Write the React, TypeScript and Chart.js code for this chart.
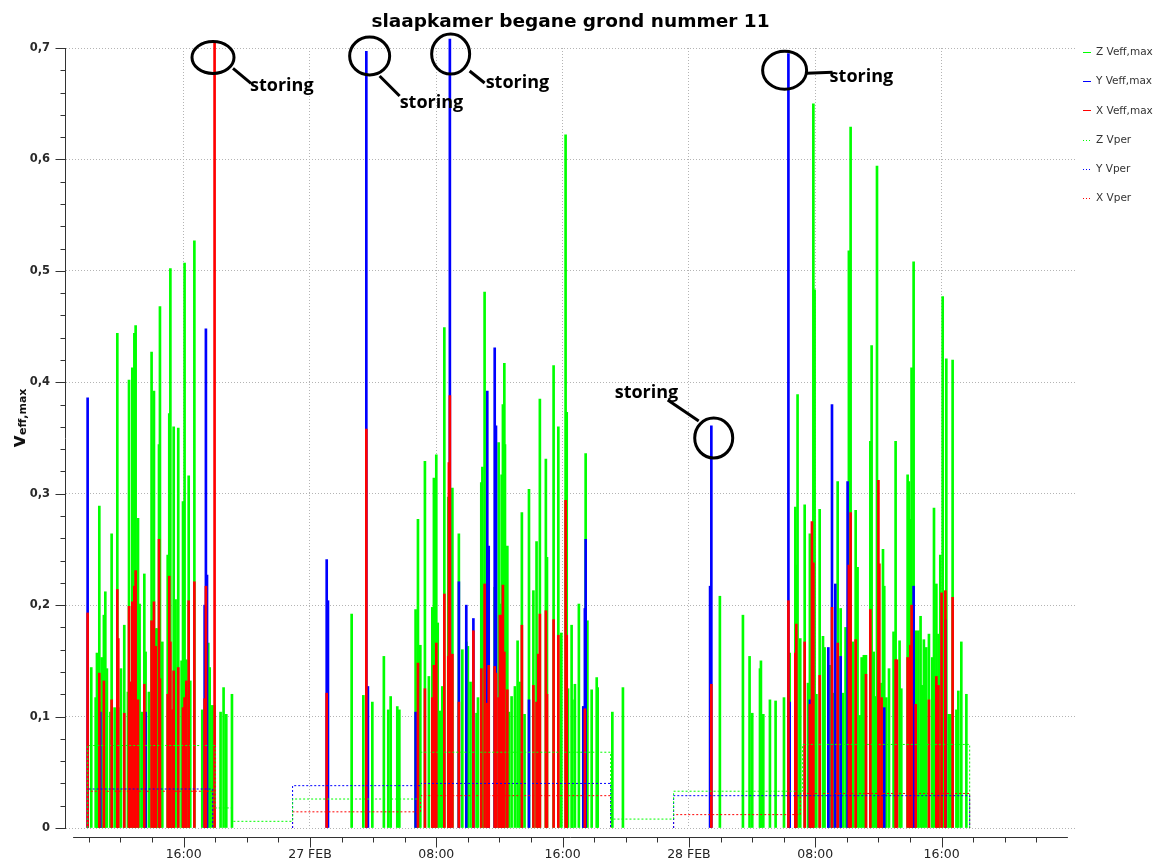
import React, { useEffect, useRef } from 'react';
import { Chart, registerables } from 'chart.js';

Chart.register(...registerables);

// ---------- DATA ----------
// time in hours counted from 26 FEB 00:00
const xRangeHours = [8.55, 72.45];
const xAxisSpanHours = [9, 72];
const majorTickHours = [16, 24, 32, 40, 48, 56, 64];
const majorTickLabels = ['16:00', '27 FEB', '08:00', '16:00', '28 FEB', '08:00', '16:00'];
const minorTickHours = [10, 12, 14, 18, 20, 22, 26, 28, 30, 34, 36, 38, 42, 44, 46, 50, 52, 54, 58, 60, 62, 66, 68, 70];
const yMajorTicks = [0, 0.1, 0.2, 0.3, 0.4, 0.5, 0.6, 0.7];
const yMinorTicks = [0.02, 0.04, 0.06, 0.08, 0.12, 0.14, 0.16, 0.18, 0.22, 0.24, 0.26, 0.28, 0.32, 0.34, 0.36, 0.38, 0.42, 0.44, 0.46, 0.48, 0.52, 0.54, 0.56, 0.58, 0.62, 0.64, 0.66, 0.68];

const chartTitle = 'slaapkamer begane grond nummer 11';
const seriesLabels = ['Z Veff,max', 'Y Veff,max', 'X Veff,max', 'Z Vper', 'Y Vper', 'X Vper'];

// Z Veff,max peaks [hour, value]
const zPeaks: [number, number][] = [
  [10.15, 0.144], [10.43, 0.117], [10.51, 0.157], [10.57, 0.106], [10.66, 0.289], [10.72, 0.113], [10.81, 0.153], [10.95, 0.191],
  [11.04, 0.212], [11.14, 0.143], [11.36, 0.104], [11.44, 0.264], [11.63, 0.108], [11.80, 0.444], [11.86, 0.108], [12.03, 0.143],
  [12.24, 0.182], [12.47, 0.122], [12.54, 0.402], [12.60, 0.131], [12.75, 0.413], [12.88, 0.444], [12.96, 0.451], [13.11, 0.278],
  [13.21, 0.201], [13.38, 0.104], [13.51, 0.228], [13.59, 0.158], [13.80, 0.122], [13.97, 0.427], [14.12, 0.392], [14.23, 0.179],
  [14.33, 0.179], [14.44, 0.344], [14.50, 0.468], [14.65, 0.167], [14.99, 0.245], [15.09, 0.372], [15.16, 0.502], [15.30, 0.106],
  [15.37, 0.360], [15.49, 0.205], [15.66, 0.359], [15.87, 0.150], [15.96, 0.293], [16.06, 0.507], [16.17, 0.151], [16.32, 0.316],
  [16.42, 0.132], [16.68, 0.527], [17.18, 0.106], [17.56, 0.166], [17.65, 0.144], [17.82, 0.110], [17.96, 0.110], [18.34, 0.104],
  [18.53, 0.126], [18.70, 0.102], [19.06, 0.120],
  [26.64, 0.192], [27.38, 0.119], [27.95, 0.113], [28.68, 0.154], [28.96, 0.106], [29.11, 0.118], [29.53, 0.109], [29.66, 0.106],
  [30.69, 0.196], [30.84, 0.277], [30.99, 0.164], [31.28, 0.329], [31.53, 0.136], [31.75, 0.198], [31.85, 0.314], [32.00, 0.335],
  [32.09, 0.184], [32.23, 0.105], [32.38, 0.127], [32.51, 0.449], [32.76, 0.297], [33.02, 0.305], [33.43, 0.264], [33.65, 0.160],
  [33.90, 0.167], [34.00, 0.163], [34.17, 0.131], [34.55, 0.103], [34.64, 0.117], [34.85, 0.310], [34.92, 0.324], [35.06, 0.481],
  [35.70, 0.216], [35.95, 0.346], [36.03, 0.201], [36.14, 0.317], [36.22, 0.380], [36.31, 0.417], [36.35, 0.344], [36.50, 0.253],
  [36.60, 0.104], [36.77, 0.118], [36.98, 0.127], [37.15, 0.168], [37.30, 0.131], [37.42, 0.283], [37.59, 0.102], [37.87, 0.304],
  [38.15, 0.213], [38.35, 0.257], [38.46, 0.156], [38.56, 0.385], [38.94, 0.331], [39.01, 0.243], [39.43, 0.415], [39.73, 0.360],
  [39.92, 0.175], [40.19, 0.622], [40.26, 0.373], [40.34, 0.125], [40.57, 0.182], [40.62, 0.115], [40.78, 0.129], [41.03, 0.201],
  [41.31, 0.109], [41.46, 0.336], [41.57, 0.186], [41.84, 0.124],
  [42.16, 0.135], [42.22, 0.126], [43.15, 0.104], [43.82, 0.126], [49.96, 0.208], [51.42, 0.191], [51.84, 0.154], [52.01, 0.103],
  [52.50, 0.143], [52.56, 0.150], [52.71, 0.102], [53.13, 0.115], [53.49, 0.114], [54.02, 0.117], [54.38, 0.157], [54.74, 0.288],
  [54.80, 0.236], [54.88, 0.389], [55.05, 0.170], [55.33, 0.290], [55.54, 0.130], [55.66, 0.264], [55.79, 0.134], [55.88, 0.650],
  [55.96, 0.483], [56.07, 0.120], [56.28, 0.286], [56.49, 0.172], [56.59, 0.162], [56.83, 0.135], [56.91, 0.146], [57.16, 0.121],
  [57.42, 0.311], [57.61, 0.197], [57.75, 0.121], [57.92, 0.180], [58.05, 0.135], [58.13, 0.518], [58.24, 0.629], [58.39, 0.167],
  [58.56, 0.285], [58.68, 0.234], [58.81, 0.101], [58.94, 0.153], [59.08, 0.155], [59.21, 0.155], [59.49, 0.347], [59.57, 0.433],
  [59.70, 0.158], [59.82, 0.118], [59.91, 0.594], [60.00, 0.169], [60.20, 0.130], [60.29, 0.250], [60.37, 0.217], [60.50, 0.117],
  [60.67, 0.143], [60.96, 0.176], [61.09, 0.347], [61.34, 0.168], [61.45, 0.125], [61.85, 0.317], [61.93, 0.311], [62.02, 0.277],
  [62.10, 0.413], [62.23, 0.508], [62.36, 0.177], [62.53, 0.177], [62.67, 0.190], [62.78, 0.128], [62.88, 0.169], [63.03, 0.162],
  [63.20, 0.174], [63.41, 0.153], [63.52, 0.287], [63.67, 0.219], [63.80, 0.174], [63.92, 0.245], [64.07, 0.477], [64.30, 0.421],
  [64.45, 0.102], [64.58, 0.102], [64.70, 0.420], [64.94, 0.106], [65.06, 0.123], [65.25, 0.167], [65.57, 0.120],
];

// Y Veff,max peaks [hour, value]
const yPeaks: [number, number][] = [
  [9.92, 0.386], [10.72, 0.104], [13.59, 0.104], [17.33, 0.200], [17.41, 0.448], [17.48, 0.227], [25.06, 0.241], [25.14, 0.204],
  [27.57, 0.697], [27.67, 0.127], [30.69, 0.104], [32.86, 0.708], [33.43, 0.221], [33.90, 0.200], [34.35, 0.188], [35.23, 0.392],
  [35.32, 0.253], [35.70, 0.431], [35.78, 0.361], [37.87, 0.115], [41.31, 0.109], [41.41, 0.197], [41.46, 0.259], [49.34, 0.217],
  [49.42, 0.361], [54.30, 0.695], [54.38, 0.113], [54.74, 0.133], [55.66, 0.115], [56.83, 0.162], [57.06, 0.380], [57.27, 0.219],
  [57.61, 0.154], [58.05, 0.311], [60.37, 0.108], [62.23, 0.217], [64.24, 0.187],
];

// X Veff,max peaks [hour, value]
const xPeaks: [number, number][] = [
  [9.92, 0.193], [10.66, 0.139], [10.95, 0.132], [11.44, 0.115], [11.80, 0.214], [11.86, 0.170], [12.24, 0.103], [12.54, 0.199],
  [12.60, 0.131], [12.75, 0.203], [12.88, 0.217], [12.96, 0.231], [13.11, 0.115], [13.51, 0.129], [13.97, 0.186], [14.12, 0.203],
  [14.23, 0.163], [14.44, 0.259], [14.50, 0.134], [14.99, 0.120], [15.09, 0.226], [15.16, 0.167], [15.30, 0.106], [15.37, 0.141],
  [15.66, 0.144], [15.96, 0.108], [16.06, 0.117], [16.17, 0.132], [16.32, 0.204], [16.68, 0.221], [17.33, 0.116], [17.41, 0.217],
  [17.96, 0.706], [25.06, 0.121], [27.57, 0.358], [30.84, 0.148], [31.28, 0.125], [31.75, 0.117], [31.85, 0.146], [32.00, 0.166],
  [32.51, 0.210], [32.76, 0.154], [32.80, 0.328], [32.86, 0.388], [33.02, 0.156], [33.43, 0.113], [34.35, 0.177], [34.85, 0.143],
  [35.06, 0.219], [35.23, 0.112], [35.32, 0.146], [35.70, 0.145], [35.78, 0.139], [35.95, 0.117], [36.03, 0.191], [36.14, 0.191],
  [36.22, 0.218], [36.31, 0.158], [36.50, 0.124], [37.42, 0.182], [38.15, 0.128], [38.35, 0.113], [38.46, 0.156], [38.56, 0.192],
  [38.94, 0.195], [39.01, 0.120], [39.43, 0.187], [39.73, 0.173], [40.19, 0.294], [40.26, 0.173], [41.41, 0.107], [49.42, 0.129],
  [54.30, 0.204], [54.74, 0.157], [54.80, 0.183], [55.33, 0.167], [55.66, 0.111], [55.79, 0.275], [55.88, 0.238], [56.28, 0.137],
  [57.06, 0.198], [57.42, 0.166], [58.13, 0.236], [58.24, 0.283], [58.56, 0.169], [59.21, 0.138], [59.49, 0.196], [60.00, 0.312],
  [60.06, 0.237], [60.20, 0.117], [61.09, 0.151], [61.17, 0.151], [61.85, 0.153], [62.02, 0.164], [62.10, 0.200], [62.36, 0.111],
  [63.20, 0.115], [63.67, 0.136], [63.80, 0.128], [64.00, 0.211], [64.24, 0.213], [64.70, 0.207],
];

// Vper step levels [start hour, level] (null = no measurement)
const zVper: ([number, number] | null)[] = [
  [9.92, 0], [9.92, 0.074], [18.0, 0.018], [19.06, 0.006], [22.9, 0.026], [31.0, 0.068], [43.04, 0.008], [47.03, 0.033],
  [55.2, 0.075], [65.78, 0],
];
const yVper: ([number, number] | null)[] = [
  [9.92, 0], [9.92, 0.035], [17.84, 0], null, [22.9, 0], [22.9, 0.038], [31.0, 0.040], [43.04, 0], null,
  [47.03, 0], [47.03, 0.029], [65.78, 0],
];
const xVper: ([number, number] | null)[] = [
  [9.92, 0], [9.92, 0.033], [17.84, 0], null, [22.9, 0], [22.9, 0.0145], [31.0, 0.029], [43.04, 0], null,
  [47.03, 0], [47.03, 0.012], [55.05, 0.031], [65.78, 0],
];

// "storing" (disturbance) annotations: anchor [hour, value]
const storingAnchors: [number, number][] = [
  [17.86, 0.6915], [27.78, 0.6928], [32.91, 0.6946], [49.57, 0.350], [54.06, 0.680],
];
const storingText = 'storing';

// ---------- STYLE ----------
const GREEN = '#00ff00';
const BLUE = '#0000ff';
const RED = '#ff0000';
const AXIS_COLOR = '#333333';
const TEXT_COLOR = '#2a2a2a';
const GRID_COLOR = '#b4b4b4';

const noteLayout = [
  { rx: 21, ry: 16, line: [20, 11, 38, 26], text: [37, 34] },
  { rx: 20, ry: 19, line: [10, 20, 30, 40], text: [30, 52] },
  { rx: 19, ry: 20, line: [19, 17, 34, 29], text: [35, 34] },
  { rx: 19, ry: 20, line: [-15, -17, -46, -38], text: [-99, -40] },
  { rx: 22, ry: 19, line: [22, 3, 48, 2], text: [45, 12] },
];

const legendStyle = [
  { color: GREEN, dotted: false },
  { color: BLUE, dotted: false },
  { color: RED, dotted: false },
  { color: GREEN, dotted: true },
  { color: BLUE, dotted: true },
  { color: RED, dotted: true },
];

const toBars = (arr: [number, number][]) => arr.map(([x, y]) => ({ x, y }));
const toSteps = (arr: ([number, number] | null)[]) =>
  arr.map((p, i) => (p ? { x: p[0], y: p[1] } : { x: (arr[i - 1] as [number, number])[0] + 0.01, y: null }));

const decorPlugin = {
  id: 'decor',
  afterDraw(chart: any) {
    const { ctx, chartArea, scales } = chart;
    const xs = scales.x;
    const ys = scales.y;
    ctx.save();
    ctx.strokeStyle = AXIS_COLOR;
    ctx.lineWidth = 1;
    ctx.setLineDash([]);

    // y axis
    const ax = Math.round(chartArea.left) - 0.5;
    ctx.beginPath();
    ctx.moveTo(ax, Math.round(ys.getPixelForValue(0.7)));
    ctx.lineTo(ax, Math.round(ys.getPixelForValue(0)) + 1);
    ctx.stroke();
    ctx.beginPath();
    for (const v of yMajorTicks) {
      const py = Math.round(ys.getPixelForValue(v)) + 0.5;
      ctx.moveTo(ax - 10, py);
      ctx.lineTo(ax, py);
    }
    for (const v of yMinorTicks) {
      const py = Math.round(ys.getPixelForValue(v)) + 0.5;
      ctx.moveTo(ax - 5, py);
      ctx.lineTo(ax, py);
    }
    ctx.stroke();

    // x axis
    const ay = Math.round(chartArea.bottom) + 9.5;
    ctx.beginPath();
    ctx.moveTo(xs.getPixelForValue(xAxisSpanHours[0]), ay);
    ctx.lineTo(xs.getPixelForValue(xAxisSpanHours[1]), ay);
    for (const h of majorTickHours) {
      const px = Math.round(xs.getPixelForValue(h)) + 0.5;
      ctx.moveTo(px, ay);
      ctx.lineTo(px, ay + 10);
    }
    for (const h of minorTickHours) {
      const px = Math.round(xs.getPixelForValue(h)) + 0.5;
      ctx.moveTo(px, ay);
      ctx.lineTo(px, ay + 5);
    }
    ctx.stroke();

    // title
    ctx.fillStyle = '#000';
    ctx.font = 'bold 18.5px "DejaVu Sans"';
    ctx.textAlign = 'center';
    ctx.textBaseline = 'alphabetic';
    ctx.fillText(chartTitle, (chartArea.left + chartArea.right) / 2, 27);

    // y label
    ctx.save();
    ctx.translate(25, 418);
    ctx.rotate(-Math.PI / 2);
    ctx.textAlign = 'left';
    ctx.font = 'bold 19px "DejaVu Sans"';
    const w1 = ctx.measureText('v').width;
    ctx.font = 'bold 11px "DejaVu Sans"';
    const w2 = ctx.measureText('eff,max').width;
    const sx = -(w1 + w2) / 2;
    ctx.fillStyle = '#111';
    ctx.font = 'bold 19px "DejaVu Sans"';
    ctx.fillText('v', sx, 0);
    ctx.font = 'bold 11px "DejaVu Sans"';
    ctx.fillText('eff,max', sx + w1, 1);
    ctx.restore();

    // legend
    ctx.font = '10.5px "DejaVu Sans"';
    ctx.textAlign = 'left';
    ctx.textBaseline = 'middle';
    seriesLabels.forEach((label, i) => {
      const st = legendStyle[i];
      const y = 52 + i * 29.2;
      const yy = Math.round(y) + 0.5;
      ctx.strokeStyle = st.color;
      ctx.lineWidth = 1;
      ctx.setLineDash(st.dotted ? [1, 2] : []);
      ctx.beginPath();
      ctx.moveTo(1083, yy);
      ctx.lineTo(1091, yy);
      ctx.stroke();
      ctx.setLineDash([]);
      ctx.fillStyle = '#333';
      ctx.fillText(label, 1096, y + 0.5);
    });

    // storing annotations
    ctx.strokeStyle = '#000';
    ctx.fillStyle = '#000';
    ctx.lineWidth = 3;
    ctx.font = 'bold 18px "Open Sans"';
    ctx.textAlign = 'left';
    ctx.textBaseline = 'alphabetic';
    storingAnchors.forEach(([h, v], i) => {
      const L = noteLayout[i];
      const cx = xs.getPixelForValue(h);
      const cy = ys.getPixelForValue(v);
      ctx.beginPath();
      ctx.ellipse(cx, cy, L.rx, L.ry, 0, 0, Math.PI * 2);
      ctx.stroke();
      ctx.beginPath();
      ctx.moveTo(cx + L.line[0], cy + L.line[1]);
      ctx.lineTo(cx + L.line[2], cy + L.line[3]);
      ctx.stroke();
      ctx.fillText(storingText, cx + L.text[0], cy + L.text[1]);
    });
    ctx.restore();
  },
};

const barCommon = {
  type: 'bar' as const,
  barThickness: 2,
  grouped: false,
  borderWidth: 0,
  clip: false as const,
};

const stepCommon = {
  type: 'line' as const,
  stepped: 'before' as const,
  borderWidth: 1,
  borderDash: [2, 2],
  pointRadius: 0,
  fill: false,
  spanGaps: false,
  order: 0,
};

export default function App() {
  const ref = useRef<HTMLCanvasElement>(null);
  useEffect(() => {
    document.body.style.margin = '0';
    const chart = new Chart(ref.current as HTMLCanvasElement, {
      type: 'bar',
      data: {
        datasets: [
          { ...stepCommon, label: seriesLabels[3], data: toSteps(zVper) as any, borderColor: GREEN },
          { ...stepCommon, label: seriesLabels[4], data: toSteps(yVper) as any, borderColor: BLUE },
          { ...stepCommon, label: seriesLabels[5], data: toSteps(xVper) as any, borderColor: RED },
          { ...barCommon, label: seriesLabels[2], data: toBars(xPeaks) as any, backgroundColor: RED, order: 1 },
          { ...barCommon, label: seriesLabels[1], data: toBars(yPeaks) as any, backgroundColor: BLUE, order: 2 },
          { ...barCommon, label: seriesLabels[0], data: toBars(zPeaks) as any, backgroundColor: GREEN, order: 3 },
        ] as any,
      },
      options: {
        responsive: false,
        animation: false,
        devicePixelRatio: 1,
        events: [],
        layout: { padding: { top: 48, right: 81, left: 0, bottom: 0 } },
        plugins: {
          legend: { display: false },
          title: { display: false },
          tooltip: { enabled: false },
        },
        scales: {
          x: {
            type: 'linear',
            min: xRangeHours[0],
            max: xRangeHours[1],
            offset: false,
            afterFit: (s: any) => {
              s.height = 36;
            },
            afterBuildTicks: (s: any) => {
              s.ticks = majorTickHours.map((value) => ({ value }));
            },
            ticks: {
              autoSkip: false,
              maxRotation: 0,
              minRotation: 0,
              padding: 19,
              color: '#222',
              font: { family: 'DejaVu Sans', size: 12.5, weight: 'normal' },
              callback: (value: any) => {
                const i = majorTickHours.indexOf(Number(value));
                return i >= 0 ? majorTickLabels[i] : '';
              },
            },
            grid: { offset: false, drawTicks: false, color: GRID_COLOR, lineWidth: 1 },
            border: { display: false, dash: [1, 2] },
          },
          y: {
            type: 'linear',
            min: 0,
            max: 0.7,
            afterFit: (s: any) => {
              s.width = 66;
            },
            ticks: {
              stepSize: 0.1,
              padding: 16,
              color: TEXT_COLOR,
              font: { family: 'DejaVu Sans', size: 11.5, weight: 'bold' },
              callback: (value: any) => {
                const v = Number(value);
                if (Math.abs(v) < 1e-9) return '0';
                return v.toFixed(1).replace('.', ',');
              },
            },
            grid: { drawTicks: false, color: GRID_COLOR, lineWidth: 1 },
            border: { display: false, dash: [1, 2] },
          },
        },
      } as any,
      plugins: [decorPlugin],
    });
    return () => chart.destroy();
  }, []);
  return (
    <div style={{ width: 1156, height: 864, background: '#fff' }}>
      <canvas ref={ref} width={1156} height={864} style={{ display: 'block' }} />
    </div>
  );
}
